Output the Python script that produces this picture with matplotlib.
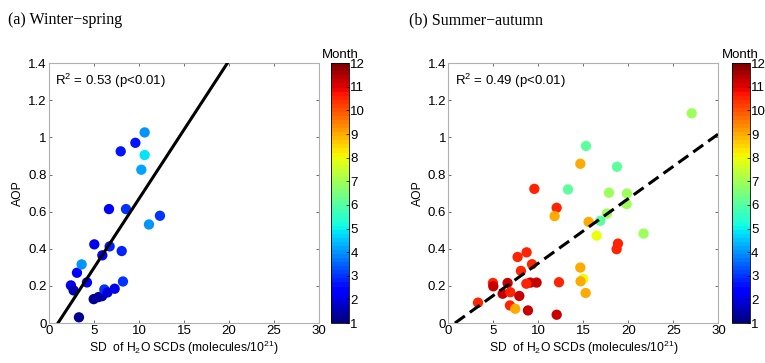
import numpy as np
import matplotlib
import matplotlib.pyplot as plt
from matplotlib.ticker import FuncFormatter

matplotlib.use("Agg")

plt.rcParams["font.family"] = "Liberation Sans"
plt.rcParams["mathtext.fontset"] = "custom"
plt.rcParams["mathtext.rm"] = "Liberation Sans"
plt.rcParams["mathtext.it"] = "Liberation Sans:italic"

# (a) winter-spring
ws_x = [2.44, 2.74, 3.11, 3.63, 4.22, 4.97, 5.50, 5.90, 6.15, 6.50, 7.30, 8.22, 5.04,
        5.93, 6.74, 8.08, 6.67, 8.56, 11.11, 12.33, 7.97, 9.60, 10.63, 10.63, 10.26, 3.33]
ws_y = [0.203, 0.176, 0.271, 0.316, 0.219, 0.129, 0.140, 0.145, 0.181, 0.165, 0.185, 0.224, 0.424,
        0.365, 0.413, 0.388, 0.614, 0.614, 0.531, 0.578, 0.925, 0.971, 1.027, 0.905, 0.826, 0.031]
ws_month = [2.2, 1.6, 2.3, 4.0, 2.3, 1.3, 1.4, 1.5, 3.0, 2.0, 2.2, 3.0, 2.2,
            2.3, 2.8, 2.8, 2.3, 3.0, 4.0, 3.0, 2.6, 2.7, 4.0, 4.9, 4.1, 1.2]
ws_fit = (0.0744, -0.0744)
ws_r2 = "0.53"

# (b) summer-autumn
sa_x = [27.04, 15.30, 14.67, 18.74, 13.30, 9.56, 17.85, 19.85, 19.81, 12.04, 11.81, 17.63, 16.89,
        15.59, 16.48, 21.70, 18.85, 18.70, 8.70, 7.70, 9.30, 8.07, 14.67, 15.00, 14.70, 15.26,
        12.30, 9.81, 9.11, 8.67, 6.59, 4.96, 5.00, 6.04, 6.89, 7.89, 3.30, 6.85, 7.44, 8.85, 12.04]
sa_y = [1.130, 0.954, 0.858, 0.842, 0.720, 0.723, 0.702, 0.698, 0.641, 0.621, 0.576, 0.590, 0.551,
        0.545, 0.471, 0.482, 0.428, 0.398, 0.381, 0.356, 0.317, 0.281, 0.299, 0.238, 0.225, 0.162,
        0.220, 0.218, 0.218, 0.212, 0.216, 0.216, 0.198, 0.158, 0.166, 0.146, 0.110, 0.095, 0.077,
        0.068, 0.045]
sa_month = [7.0, 6.0, 9.0, 6.0, 6.0, 10.5, 7.0, 7.0, 7.0, 10.5, 9.0, 7.0, 6.0,
            9.0, 8.0, 7.0, 10.5, 10.5, 10.5, 10.5, 10.5, 10.5, 9.0, 8.0, 9.0, 9.0,
            10.5, 11.3, 11.3, 10.5, 11.3, 10.5, 11.3, 11.3, 10.5, 11.3, 10.5, 10.5, 9.0,
            11.3, 11.3]
sa_fit = (0.0348, -0.0257)
sa_r2 = "0.49"

cmap = plt.get_cmap("jet", 64)
fig = plt.figure(figsize=(7.65, 3.63), dpi=100)

panels = [
    ("(a) Winter\u2212spring", ws_x, ws_y, ws_month, ws_fit, ws_r2, "-",
     [0.064, 0.110, 0.353, 0.716], [0.4327, 0.110, 0.0235, 0.716], 0.010),
    ("(b) Summer\u2212autumn", sa_x, sa_y, sa_month, sa_fit, sa_r2, "--",
     [0.586, 0.110, 0.353, 0.716], [0.9565, 0.110, 0.0235, 0.716], 0.535),
]

for title, x, y, m, fit, r2, ls, apos, cpos, tx in panels:
    ax = fig.add_axes(apos)
    sc = ax.scatter(x, y, c=m, cmap=cmap, vmin=1, vmax=12, s=55,
                    edgecolors="none", zorder=2)
    k, b = fit
    xl = np.linspace(-b / k, 30, 100)
    ax.plot(xl, k * xl + b, color="black", lw=2.2, ls=ls,
            dashes=(4, 2) if ls == "--" else (None, None), zorder=3)
    ax.set_xlim(0, 30)
    ax.set_ylim(0, 1.4)
    ax.set_xticks(np.arange(0, 31, 5))
    ax.set_yticks(np.arange(0, 1.41, 0.2))
    ax.yaxis.set_major_formatter(FuncFormatter(lambda v, p: f"{v:g}"))
    ax.tick_params(direction="in", top=True, right=True, length=2,
                   width=0.6, color="#555555", labelsize=9.5, pad=1.5)
    for sp in ax.spines.values():
        sp.set_color("#b0b0b0")
        sp.set_linewidth(0.8)
    ax.set_xlabel("SD  of H$_2$O SCDs (molecules/10$^{21}$)", fontsize=8.7, labelpad=1)
    ax.set_ylabel("AOP", fontsize=8.7, labelpad=3)
    ax.text(0.024, 0.965, "R$^2$ = " + r2 + " (p<0.01)", transform=ax.transAxes,
            fontsize=9.5, va="top", ha="left")
    fig.text(tx, 0.945, title, family="Liberation Serif", fontsize=11.5,
             va="center", ha="left")

    cax = fig.add_axes(cpos)
    cb = fig.colorbar(sc, cax=cax, ticks=range(1, 13))
    cb.outline.set_linewidth(0.6)
    cb.ax.tick_params(direction="in", length=2, width=0.5, labelsize=9.5, pad=1)
    cax.set_title("Month", fontsize=9.5, pad=4)

fig.savefig("out.png", dpi=100)
